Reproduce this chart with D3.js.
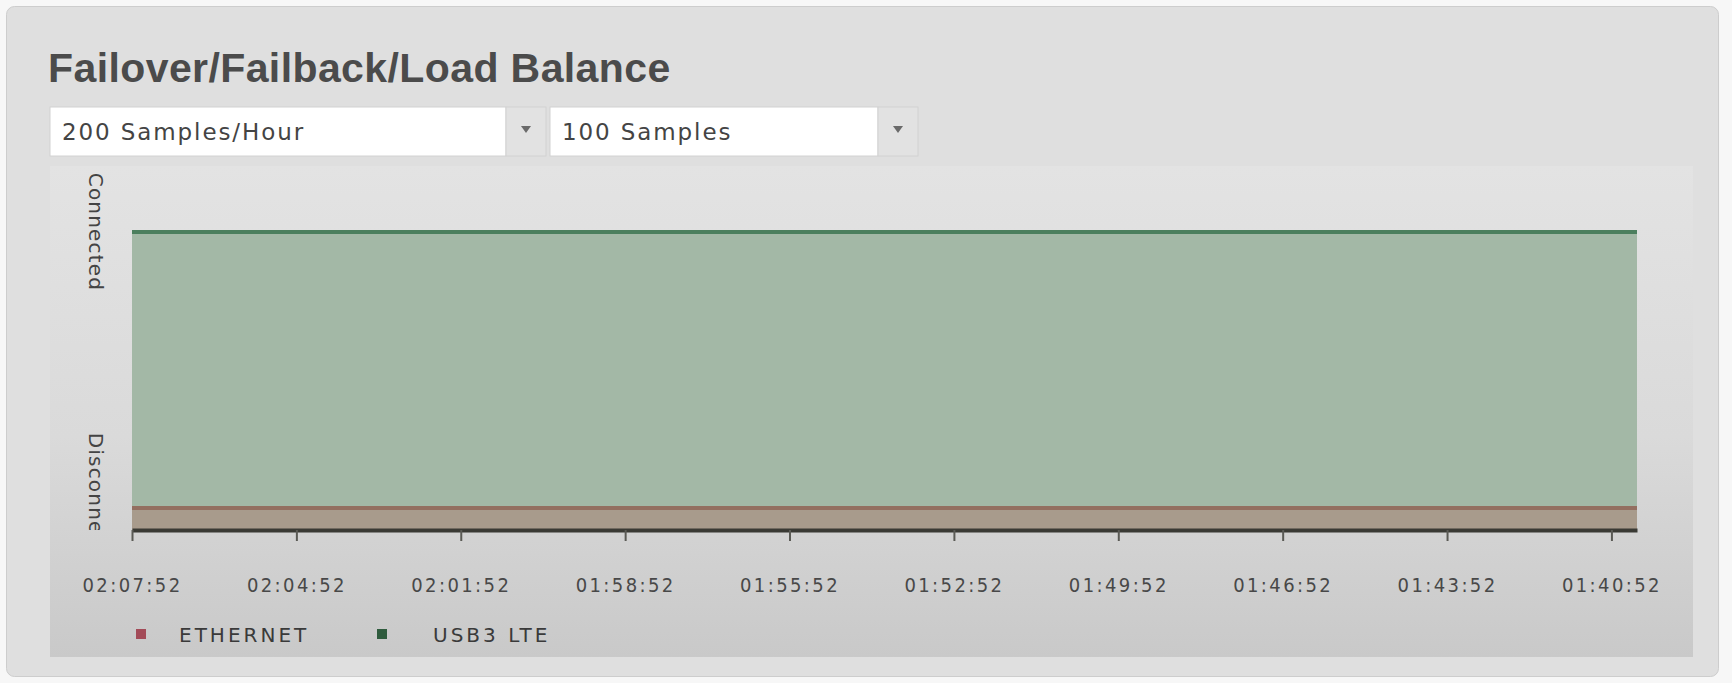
<!DOCTYPE html>
<html>
<head>
<meta charset="utf-8">
<script src="https://cdn.jsdelivr.net/npm/d3@7"></script>
<style>
  html, body { margin: 0; padding: 0; background: #f7f7f7; }
  svg { display: block; }
</style>
</head>
<body>
<script>
// chart data
var title = "Failover/Failback/Load Balance";
var rateOptions = ["200 Samples/Hour"];
var countOptions = ["100 Samples"];
var statusLabels = ["Disconnected", "Connected"];
var tickLabels = ["02:07:52", "02:04:52", "02:01:52", "01:58:52", "01:55:52",
                  "01:52:52", "01:49:52", "01:46:52", "01:43:52", "01:40:52"];
var sampleTimes = ["02:07:52", "02:04:52", "02:01:52", "01:58:52", "01:55:52",
                   "01:52:52", "01:49:52", "01:46:52", "01:43:52", "01:40:52", "01:40:24"];
var seriesNames = ["ETHERNET", "USB3 LTE"];
var ethernetValues = [0, 0, 0, 0, 0, 0, 0, 0, 0, 0, 0];
var lteValues = [1, 1, 1, 1, 1, 1, 1, 1, 1, 1, 1];

var width = 1732, height = 683;
var parseTime = d3.timeParse("%H:%M:%S");

var svg = d3.select("body").append("svg")
    .attr("width", width)
    .attr("height", height);

var defs = svg.append("defs");
var grad = defs.append("linearGradient")
    .attr("id", "boxGrad")
    .attr("x1", 0).attr("y1", 0).attr("x2", 0).attr("y2", 1);
grad.append("stop").attr("offset", "0%").attr("stop-color", "#e3e3e3");
grad.append("stop").attr("offset", "55%").attr("stop-color", "#dadada");
grad.append("stop").attr("offset", "100%").attr("stop-color", "#c9c9c9");

// outer panel
svg.append("rect")
    .attr("x", 6.5).attr("y", 6.5)
    .attr("width", 1712).attr("height", 670)
    .attr("rx", 8)
    .attr("fill", "#dfdfdf")
    .attr("stroke", "#cdcdcd");

svg.append("text")
    .attr("x", 48).attr("y", 82)
    .attr("font-family", "Liberation Sans, Arial, sans-serif")
    .attr("font-weight", "bold")
    .attr("font-size", 41)
    .attr("letter-spacing", 0.4)
    .attr("fill", "#4b4b4b")
    .text(title);

// the two select boxes
function selectBox(x, w, label) {
    var g = svg.append("g").attr("transform", "translate(" + x + ",107)");
    g.append("rect")
        .attr("width", w).attr("height", 49)
        .attr("fill", "#ffffff")
        .attr("stroke", "#d2d2d2");
    g.append("rect")
        .attr("x", w).attr("width", 40).attr("height", 49)
        .attr("fill", "#e2e2e2")
        .attr("stroke", "#d2d2d2");
    g.append("path")
        .attr("d", "M" + (w + 15) + ",19 L" + (w + 25) + ",19 L" + (w + 20) + ",26 Z")
        .attr("fill", "#6a6a6a");
    g.append("text")
        .attr("x", 12).attr("y", 33)
        .attr("font-family", "DejaVu Sans, sans-serif")
        .attr("font-size", 23)
        .attr("letter-spacing", 1.9)
        .attr("fill", "#444")
        .text(label);
}
selectBox(50, 456, rateOptions[0]);
selectBox(550, 328, countOptions[0]);

// chart box
svg.append("rect")
    .attr("x", 50).attr("y", 166)
    .attr("width", 1643).attr("height", 491)
    .attr("fill", "url(#boxGrad)");

var margin = {left: 132, right: 1637, top: 232, bottom: 530};

var x = d3.scaleTime()
    .domain([parseTime(sampleTimes[0]), parseTime(sampleTimes[sampleTimes.length - 1])])
    .range([margin.left, margin.right]);

var y = d3.scaleLinear()
    .domain([-0.08, 1])
    .range([margin.bottom, margin.top]);

var samples = sampleTimes.map(function(t, i) {
    return {t: parseTime(t), eth: ethernetValues[i], lte: lteValues[i]};
});

var lteArea = d3.area()
    .x(function(d) { return x(d.t); })
    .y0(y(-0.08))
    .y1(function(d) { return y(d.lte); });
var lteLine = d3.line()
    .x(function(d) { return x(d.t); })
    .y(function(d) { return y(d.lte); });
var ethArea = d3.area()
    .x(function(d) { return x(d.t); })
    .y0(y(-0.08))
    .y1(function(d) { return y(d.eth); });
var ethLine = d3.line()
    .x(function(d) { return x(d.t); })
    .y(function(d) { return y(d.eth); });

svg.append("path").datum(samples)
    .attr("d", lteArea)
    .attr("fill", "#a3b8a6");
svg.append("path").datum(samples)
    .attr("d", lteLine)
    .attr("fill", "none")
    .attr("stroke", "#4c7f5e")
    .attr("stroke-width", 4);
svg.append("path").datum(samples)
    .attr("d", ethArea)
    .attr("fill", "#a89b8c");
svg.append("path").datum(samples)
    .attr("d", ethLine)
    .attr("fill", "none")
    .attr("stroke", "#936f60")
    .attr("stroke-width", 4);

// y labels, rotated, centred on their values
defs.append("clipPath").attr("id", "yclip")
    .append("rect")
    .attr("x", 60).attr("y", 166)
    .attr("width", 60).attr("height", margin.bottom - 166);

svg.append("g")
    .attr("clip-path", "url(#yclip)")
    .selectAll("text")
    .data(statusLabels)
    .enter()
    .append("text")
    .attr("transform", function(d, i) {
        return "translate(89," + y(i) + ") rotate(90)";
    })
    .attr("text-anchor", "middle")
    .attr("font-family", "DejaVu Sans, sans-serif")
    .attr("font-size", 20)
    .attr("letter-spacing", 1.2)
    .attr("fill", "#444")
    .text(function(d) { return d; });

// x axis
var xAxis = d3.axisBottom(x)
    .tickValues(tickLabels.map(parseTime))
    .tickFormat(d3.timeFormat("%H:%M:%S"))
    .tickSize(11)
    .tickSizeOuter(0)
    .tickPadding(37);

var ax = svg.append("g")
    .attr("transform", "translate(0," + margin.bottom + ")")
    .call(xAxis);
ax.select(".domain")
    .attr("stroke", "#3a3a34")
    .attr("stroke-width", 4);
ax.selectAll(".tick line")
    .attr("stroke", "#5a5a55")
    .attr("stroke-width", 2);
ax.selectAll(".tick text")
    .attr("font-family", "DejaVu Sans Condensed, DejaVu Sans, sans-serif")
    .attr("font-size", 20)
    .attr("letter-spacing", 2.4)
    .attr("fill", "#484848");

// legend
var legendColors = ["#a34b58", "#2f5c3e"];
var legendX = [141, 382];
var legendTextX = [179, 433];
var legend = svg.selectAll(".legend")
    .data(seriesNames)
    .enter()
    .append("g")
    .attr("class", "legend");
legend.append("rect")
    .attr("x", function(d, i) { return legendX[i] - 5; })
    .attr("y", 629)
    .attr("width", 10).attr("height", 10)
    .attr("fill", function(d, i) { return legendColors[i]; });
legend.append("text")
    .attr("x", function(d, i) { return legendTextX[i]; })
    .attr("y", 642)
    .attr("font-family", "DejaVu Sans, sans-serif")
    .attr("font-size", 20)
    .attr("letter-spacing", 3)
    .attr("fill", "#3a3a3a")
    .text(function(d) { return d; });
</script>
</body>
</html>
